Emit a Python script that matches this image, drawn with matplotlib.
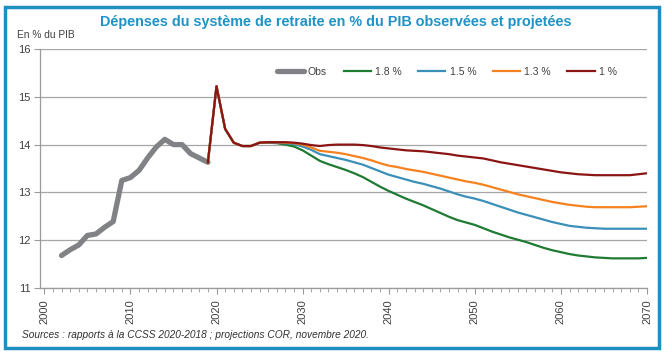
import matplotlib
matplotlib.use('Agg')

import matplotlib.pyplot as plt
from matplotlib.patches import Rectangle
from matplotlib.ticker import MultipleLocator

plt.rcParams['font.family'] = ['Liberation Sans', 'DejaVu Sans']

# === Data ===
obs_years = list(range(2002, 2020))
obs_values = [11.68, 11.80, 11.90, 12.10, 12.13, 12.27, 12.39, 13.25, 13.31,
              13.46, 13.72, 13.95, 14.11, 14.00, 14.00, 13.81, 13.72, 13.63]

proj_years = list(range(2019, 2071))
common = [13.63, 15.22, 14.33, 14.04, 13.97, 13.97, 14.04]  # 2019-2025

g18 = common + [14.04, 14.03, 14.00, 13.96, 13.88, 13.77, 13.66, 13.59, 13.53, 13.47,
                13.40, 13.32, 13.22, 13.12, 13.03, 12.95, 12.87, 12.80, 12.73, 12.65,
                12.57, 12.49, 12.42, 12.37, 12.32, 12.25, 12.18, 12.12, 12.06, 12.01,
                11.96, 11.90, 11.84, 11.79, 11.75, 11.71, 11.68, 11.66, 11.64, 11.63,
                11.62, 11.62, 11.62, 11.62, 11.63]
g15 = common + [14.05, 14.04, 14.03, 14.01, 13.96, 13.89, 13.80, 13.76, 13.72, 13.68,
                13.63, 13.58, 13.51, 13.44, 13.37, 13.32, 13.27, 13.22, 13.18, 13.13,
                13.08, 13.02, 12.96, 12.91, 12.87, 12.82, 12.76, 12.70, 12.64, 12.58,
                12.53, 12.48, 12.43, 12.38, 12.34, 12.30, 12.28, 12.26, 12.25, 12.24,
                12.24, 12.24, 12.24, 12.24, 12.24]
g13 = common + [14.05, 14.05, 14.04, 14.03, 14.00, 13.94, 13.87, 13.85, 13.83, 13.80,
                13.76, 13.72, 13.67, 13.61, 13.56, 13.53, 13.49, 13.46, 13.43, 13.39,
                13.35, 13.31, 13.27, 13.23, 13.20, 13.16, 13.11, 13.06, 13.01, 12.96,
                12.92, 12.88, 12.84, 12.80, 12.77, 12.74, 12.72, 12.70, 12.69, 12.69,
                12.69, 12.69, 12.69, 12.70, 12.71]
g10 = common + [14.05, 14.05, 14.05, 14.04, 14.02, 13.99, 13.97, 13.99, 14.00, 14.00,
                14.00, 13.99, 13.97, 13.94, 13.92, 13.90, 13.88, 13.87, 13.86, 13.84,
                13.82, 13.80, 13.77, 13.75, 13.73, 13.71, 13.67, 13.63, 13.60, 13.57,
                13.54, 13.51, 13.48, 13.45, 13.42, 13.40, 13.38, 13.37, 13.36, 13.36,
                13.36, 13.36, 13.36, 13.38, 13.40]

series = [
    ("1.8 %", g18, "#1f7a32"),
    ("1.5 %", g15, "#3a90b8"),
    ("1.3 %", g13, "#f5821f"),
    ("1 %", g10, "#8b1515"),
]

# === Plot ===
fig = plt.figure(figsize=(6.66, 3.55), dpi=100)
ax = fig.add_axes([40 / 666, 1 - 288 / 355, 607 / 666, 239 / 355])

ax.plot(obs_years, obs_values, color="#808285", lw=3.8,
        solid_capstyle='round', solid_joinstyle='round', label="Obs")
for name, vals, col in series:
    ax.plot(proj_years, vals, color=col, lw=1.6, label=name)

ax.set_xlim(1999.5, 2070)
ax.set_ylim(11, 16)
ax.xaxis.set_major_locator(MultipleLocator(10))
ax.xaxis.set_minor_locator(MultipleLocator(1))
ax.yaxis.set_major_locator(MultipleLocator(1))
ax.grid(axis='y', color='#a6a6a6', lw=0.9)
ax.set_axisbelow(True)

for s in ['top', 'right']:
    ax.spines[s].set_visible(False)
for s in ['left', 'bottom']:
    ax.spines[s].set_color('#9a9a9a')
    ax.spines[s].set_linewidth(0.9)

ax.tick_params(axis='x', which='both', direction='out', color='#9a9a9a',
               labelsize=8, labelcolor='#404040', rotation=90, pad=4)
ax.tick_params(axis='x', which='major', length=4)
ax.tick_params(axis='x', which='minor', length=3)
ax.tick_params(axis='y', length=4, color='#9a9a9a', labelsize=8,
               labelcolor='#404040', pad=3)

ax.legend(loc='center', bbox_to_anchor=(0.67, 0.905), ncol=5, frameon=False,
          fontsize=7.5, handlelength=2.6, columnspacing=1.6, handletextpad=0.4,
          labelcolor='#404040')

fig.text(336 / 666, 1 - 22 / 355,
         "Dépenses du système de retraite en % du PIB observées et projetées",
         ha='center', va='center', fontsize=10.4, fontweight='bold', color='#1f93c5')
fig.text(17 / 666, 1 - 35 / 355, "En % du PIB", ha='left', va='center',
         fontsize=7.3, color='#404040')
fig.text(22 / 666, 1 - 335 / 355,
         "Sources : rapports à la CCSS 2020-2018 ; projections COR, novembre 2020.",
         ha='left', va='center', fontsize=7.3, style='italic', color='#303030')

# blue frame round the whole figure
fig.patches.append(Rectangle((5 / 666, 7 / 355), 654 / 666, 341 / 355,
                             transform=fig.transFigure, fill=False,
                             edgecolor='#1f8fc2', lw=2.5))

fig.savefig("out.png", dpi=100)
